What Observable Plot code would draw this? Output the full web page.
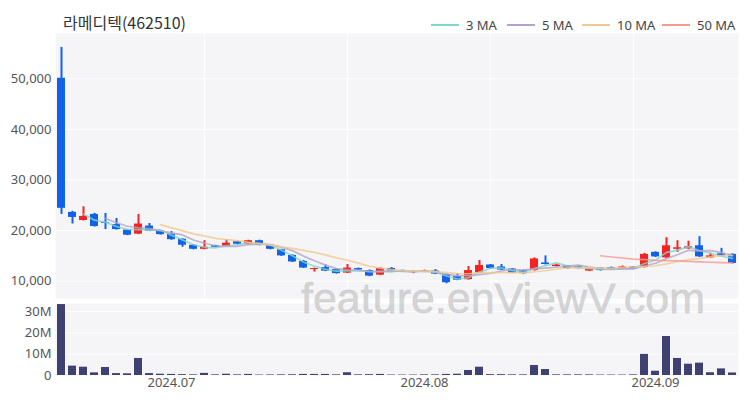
<!DOCTYPE html>
<html>
<head>
<meta charset="utf-8">
<script src="https://cdn.jsdelivr.net/npm/d3@7"></script>
<script src="https://cdn.jsdelivr.net/npm/@observablehq/plot@0.6"></script>
<style>
  html, body { margin: 0; padding: 0; background: #fff; }
  #wrap { position: relative; width: 750px; height: 400px; overflow: hidden; font-family: "Noto Sans", "Noto Sans CJK KR", sans-serif; }
  #price, #vol, #overlay { position: absolute; left: 0; }
  #price { top: 0; }
  #vol { top: 300px; }
  #overlay { top: 0; pointer-events: none; }
</style>
</head>
<body>
<div id="wrap">
  <div id="price"></div>
  <div id="vol"></div>
  <svg id="overlay" width="750" height="400"></svg>
</div>
<script>
// ---- data ----
const title = "라메디텍(462510)";
const watermark = "feature.enViewV.com";
const dates = [
  "2024-06-17","2024-06-18","2024-06-19","2024-06-20","2024-06-21","2024-06-24","2024-06-25","2024-06-26","2024-06-27","2024-06-28",
  "2024-07-01","2024-07-02","2024-07-03","2024-07-04","2024-07-05","2024-07-08","2024-07-09","2024-07-10","2024-07-11","2024-07-12",
  "2024-07-15","2024-07-16","2024-07-17","2024-07-18","2024-07-19","2024-07-22","2024-07-23","2024-07-24","2024-07-25","2024-07-26",
  "2024-07-29","2024-07-30","2024-07-31",
  "2024-08-01","2024-08-02","2024-08-05","2024-08-06","2024-08-07","2024-08-08","2024-08-09","2024-08-12","2024-08-13","2024-08-14",
  "2024-08-16","2024-08-19","2024-08-20","2024-08-21","2024-08-22","2024-08-23","2024-08-26","2024-08-27","2024-08-28","2024-08-29",
  "2024-08-30",
  "2024-09-02","2024-09-03","2024-09-04","2024-09-05","2024-09-06","2024-09-09","2024-09-10","2024-09-11"
];
const open  = [50100,23600,22000,23200,21600,21200,20100,19300,20900,19900, 19300,18300,17100,16300,17000,16900,17800,17300,18000,17100, 16200,15100,13900,12300,12700,12300,11600,12500,12100,11200, 12500,12100,11700, 11800,12000,11300,10900,10300,11600,13200,12800,12400,12100, 12100,13600,12900,13000,12900,12000,12600,12700,12400,12800, 12700, 15700,14600,16300,16400,17000,14600,15400,15300];
const high  = [56200,23800,24700,23400,23400,22400,20200,23200,21400,20000, 19800,18400,17200,18000,17100,18200,17900,18100,18100,17200, 16300,15200,14100,12600,13200,12400,13300,12600,12200,12700, 12700,12200,12100, 12200,12300,11400,11500,12900,14100,13300,13300,12500,12200, 14600,15000,13300,13100,13000,12600,12700,12800,13000,12900, 15500, 15800,18600,18000,17900,18800,15500,16500,15400];
const low   = [23200,21300,21900,20700,20200,20100,19000,19200,19800,19100, 18100,16700,16200,16200,16600,16800,17200,17200,17000,16200, 14900,13700,12500,11800,11900,11400,11500,12100,10900,11100, 11900,11800,11500, 11700,11300,9500,10100,10200,11500,12400,12100,11500,11300, 12000,13200,12800,12400,12400,11900,12000,12300,12300,12300, 12600, 14700,14500,15700,16300,14700,14500,14900,13400];
const close = [24400,22600,22800,20800,21400,20200,19100,21300,19900,19200, 18200,17100,16300,16700,16700,17500,17300,18000,17100,16300, 15000,13800,12600,12500,12000,11500,12600,12200,11000,12500, 12000,11900,11900, 12000,11400,9700,10200,12100,13100,12500,12200,11600,11500, 14400,13300,13200,12500,12500,12500,12100,12400,12800,12400, 15300, 14800,17000,16600,16800,14800,15000,15000,13500];
// volume in millions of shares
const volume = [33.3,4.4,3.9,1.25,3.75,0.9,0.8,8.0,0.9,0.6, 0.5,0.4,0.3,1.0,0.3,0.6,0.3,0.5,0.2,0.25, 0.3,0.35,0.5,0.5,0.5,0.3,1.3,0.3,0.4,0.5, 0.2,0.2,0.2, 0.3,0.3,0.5,0.6,2.35,3.9,0.4,0.4,0.3,0.3, 4.7,2.8,0.3,0.3,0.3,0.3,0.2,0.2,0.2,0.3, 9.9, 2.0,18.3,8.0,5.3,5.8,1.3,3.1,1.2];

const priceTicks = [10000, 20000, 30000, 40000, 50000];
const volTicks = [0, 10, 20, 30];
const xTickDates = ["2024-07-01", "2024-08-01", "2024-09-02"];
const xTickLabels = ["2024.07", "2024.08", "2024.09"];
const gridDates = ["2024-07-04", "2024-07-23", "2024-08-09", "2024-08-29"];
const maWindows = [3, 5, 10, 50];
const maNames = ["3 MA", "5 MA", "10 MA", "50 MA"];
const maColors = ["#7fd6cb", "#b3a3c9", "#f0c98f", "#f5998f"];

// ---- styles ----
const UP = "#f42323", DOWN = "#1162e6", VOLC = "#3f4170", BG = "#f5f5f7";
const FONT = '"Noto Sans", "Noto Sans CJK KR", sans-serif';

const data = dates.map((d, i) => ({
  date: d, open: open[i], high: high[i], low: low[i], close: close[i], vol: volume[i],
  color: close[i] >= open[i] ? UP : DOWN
}));

function movingAvg(k) {
  return close.map((_, i) => i < k - 1 ? NaN : d3.mean(close.slice(i - k + 1, i + 1)));
}
const maLines = maWindows.map((k, j) => {
  const m = movingAvg(k);
  return Plot.lineY(dates.map((d, i) => ({date: d, v: m[i]})), {
    x: "date", y: "v", stroke: maColors[j], strokeWidth: 1.7, strokeOpacity: 0.8, curve: "linear"
  });
});

const xScale = {type: "band", domain: dates, paddingInner: 0.25, paddingOuter: 0, align: 0.5};

const price = Plot.plot({
  width: 750, height: 300,
  marginTop: 33, marginBottom: 2, marginLeft: 55, marginRight: 12,
  style: {fontSize: "13px", fontFamily: FONT, color: "#555", background: "transparent"},
  x: {...xScale, axis: null},
  y: {domain: [6580, 58950], ticks: priceTicks, tickFormat: d3.format(","), tickSize: 0, tickPadding: 4, label: null},
  color: {type: "identity"},
  marks: [
    Plot.frame({fill: BG, stroke: "none"}),
    Plot.gridY(priceTicks, {stroke: "#fff", strokeOpacity: 1, strokeWidth: 1}),
    Plot.ruleX(gridDates, {stroke: "#fff", strokeOpacity: 0.8, strokeWidth: 1}),
    Plot.ruleX(data, {x: "date", y1: "low", y2: "high", stroke: "color", strokeWidth: 2}),
    Plot.barY(data, {x: "date", y1: "open", y2: "close", fill: "color"}),
    ...maLines
  ]
});
document.getElementById("price").appendChild(price);

const vol = Plot.plot({
  width: 750, height: 100,
  marginTop: 3, marginBottom: 25, marginLeft: 55, marginRight: 12,
  style: {fontSize: "13px", fontFamily: FONT, color: "#555", background: "transparent"},
  x: {...xScale, ticks: xTickDates, tickFormat: d => xTickLabels[xTickDates.indexOf(d)], tickSize: 0, tickPadding: 2, label: null},
  y: {domain: [0, 33.8], ticks: volTicks, tickFormat: d => d === 0 ? "0" : d + "M", tickSize: 0, tickPadding: 4, label: null},
  marks: [
    Plot.frame({fill: BG, stroke: "none"}),
    Plot.gridY(volTicks.filter(d => d > 0), {stroke: "#fff", strokeOpacity: 1, strokeWidth: 1}),
    Plot.barY(data, {x: "date", y: "vol", fill: VOLC})
  ]
});
document.getElementById("vol").appendChild(vol);

// ---- overlay: title, legend, watermark ----
const ov = d3.select("#overlay");
ov.append("text").attr("x", 301).attr("y", 313)
  .attr("font-family", '"Liberation Sans", Arial, sans-serif').attr("font-size", 43)
  .attr("fill", "#c4c4c4").attr("fill-opacity", 0.7)
  .attr("stroke", "#c4c4c4").attr("stroke-opacity", 0.5).attr("stroke-width", 0.8)
  .text(watermark);
ov.append("text").attr("x", 63).attr("y", 29)
  .attr("font-family", '"Noto Sans CJK KR", sans-serif').attr("font-size", 16)
  .attr("fill", "#333").text(title);
const legX = [431, 507, 582, 662];
maNames.forEach((name, j) => {
  ov.append("line").attr("x1", legX[j]).attr("x2", legX[j] + 28).attr("y1", 25).attr("y2", 25)
    .attr("stroke", maColors[j]).attr("stroke-width", 2);
  ov.append("text").attr("x", legX[j] + 35).attr("y", 29.5)
    .attr("font-family", FONT).attr("font-size", 13).attr("fill", "#444").text(name);
});
</script>
</body>
</html>
